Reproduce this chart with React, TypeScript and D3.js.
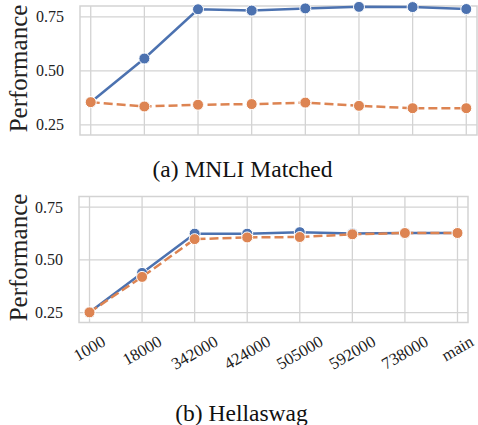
import React from "react";
import * as d3 from "d3";

const categories = ["1000", "18000", "342000", "424000", "505000", "592000", "738000", "main"];
const mnliBlue = [0.355, 0.557, 0.785, 0.779, 0.789, 0.796, 0.795, 0.786];
const mnliOrange = [0.355, 0.335, 0.343, 0.346, 0.353, 0.338, 0.327, 0.327];
const hellaBlue = [0.251, 0.438, 0.624, 0.624, 0.631, 0.625, 0.627, 0.627];
const hellaOrange = [0.251, 0.419, 0.598, 0.606, 0.608, 0.621, 0.627, 0.627];
const yTicks = [0.25, 0.5, 0.75];

const BLUE = "#4C72B0";
const ORANGE = "#DD8452";
const GRID = "#d3d3d3";
const FONT = "'Liberation Serif', 'Times New Roman', serif";

type PanelProps = {
  left: number; right: number; top: number; bottom: number;
  blue: number[]; orange: number[]; showXLabels: boolean;
};

function Panel({ left, right, top, bottom, blue, orange, showXLabels }: PanelProps) {
  const x = d3.scaleLinear().domain([-0.2, 7.2]).range([left, right]);
  const y = d3.scaleLinear().domain([0.203, 0.8]).range([bottom, top]);
  const line = d3.line<number>().x((_, i) => x(i)).y((d) => y(d));
  const fs = 16;
  const xfs = 16.8;
  const charW = (s: string) => {
    const w: Record<string, number> = { m: 0.778, a: 0.444, i: 0.278, n: 0.5 };
    return s.split("").reduce((acc, c) => acc + (w[c] ?? 0.5), 0) * xfs;
  };
  const ang = (30 * Math.PI) / 180;
  return (
    <g>
      {categories.map((c, i) => (
        <line key={"gx" + c} x1={x(i)} x2={x(i)} y1={top} y2={bottom} stroke={GRID} strokeWidth={1.3} />
      ))}
      {yTicks.map((t) => (
        <line key={"gy" + t} x1={left} x2={right} y1={y(t)} y2={y(t)} stroke={GRID} strokeWidth={1.3} />
      ))}
      <rect x={left} y={top} width={right - left} height={bottom - top} fill="none" stroke={GRID} strokeWidth={1.5} />
      {yTicks.map((t) => (
        <text key={"ty" + t} x={left - 16} y={y(t)} textAnchor="end" dominantBaseline="central"
          fontFamily={FONT} fontSize={fs} fill="#222">{d3.format(".2f")(t)}</text>
      ))}
      <text transform={`translate(${27},${(top + bottom) / 2 - 2}) rotate(-90)`} textAnchor="middle"
        fontFamily={FONT} fontSize={25} fill="#222">Performance</text>
      <g>
        <path d={line(blue) || ""} fill="none" stroke={BLUE} strokeWidth={2.5} />
        {blue.map((v, i) => (
          <circle key={"b" + i} cx={x(i)} cy={y(v)} r={5.5} fill={BLUE} stroke="#fff" strokeWidth={1} />
        ))}
        <path d={line(orange) || ""} fill="none" stroke={ORANGE} strokeWidth={2.5} strokeDasharray="9,4" />
        {orange.map((v, i) => (
          <circle key={"o" + i} cx={x(i)} cy={y(v)} r={5.5} fill={ORANGE} stroke="#fff" strokeWidth={1} />
        ))}
      </g>
      {showXLabels &&
        categories.map((c, i) => {
          const w = charW(c);
          const h = w * Math.sin(ang) + xfs * 0.7 * Math.cos(ang);
          const cy = bottom + 12.5 + h / 2;
          return (
            <text key={"tx" + c} transform={`translate(${x(i)},${cy}) rotate(-30)`} textAnchor="middle"
              dominantBaseline="central" fontFamily={FONT} fontSize={xfs} fill="#222">{c}</text>
          );
        })}
    </g>
  );
}

export default function App() {
  return (
    <svg width={478} height={425} style={{ position: "absolute", left: 0, top: 0, background: "#fff" }}>
      <rect width={478} height={425} fill="#fff" />
      <Panel left={80} right={477} top={6} bottom={135} blue={mnliBlue} orange={mnliOrange} showXLabels={false} />
      <text x={242.5} y={177} textAnchor="middle" fontFamily={FONT} fontSize={23.5} fill="#111">(a) MNLI Matched</text>
      <Panel left={79} right={468} top={196.5} bottom={322.5} blue={hellaBlue} orange={hellaOrange} showXLabels={true} />
      <text x={241.5} y={421} textAnchor="middle" fontFamily={FONT} fontSize={23.5} fill="#111">(b) Hellaswag</text>
    </svg>
  );
}
